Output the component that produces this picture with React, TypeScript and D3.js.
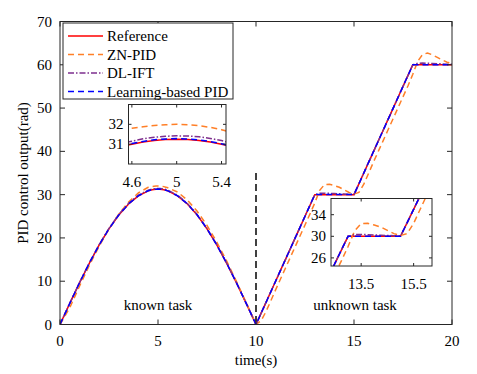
import React from "react"
import * as d3 from "d3"

// time grid (s)
const T = [
  0, 0.5, 1, 1.5, 2, 2.5, 3, 3.5, 4, 4.5, 4.6, 4.7, 4.8, 4.9, 5, 5.1, 5.2, 5.3, 5.4, 5.5, 6, 6.5, 7, 7.5, 8, 8.5, 9, 9.5, 10,
  10.25, 10.5, 10.75, 11, 11.25, 11.5, 11.75, 12, 12.25, 12.5, 12.75, 13,
  13.25, 13.5, 13.75, 14, 14.25, 14.5, 14.75, 15,
  15.25, 15.5, 15.75, 16, 16.25, 16.5, 16.75, 17, 17.25, 17.5, 17.75, 18,
  18.25, 18.5, 18.75, 19, 19.25, 19.5, 19.75, 20,
]

const REF = [
  0, 4.89, 9.66, 14.19, 18.37, 22.1, 25.28, 27.84, 29.72, 30.87, 31.0, 31.11, 31.19, 31.23, 31.25, 31.23, 31.19, 31.11, 31.0, 30.87, 29.72, 27.84, 25.28, 22.1, 18.37, 14.19, 9.66, 4.89, 0,
  2.5, 5, 7.5, 10, 12.5, 15, 17.5, 20, 22.5, 25, 27.5, 30,
  30, 30, 30, 30, 30, 30, 30, 30,
  32.5, 35, 37.5, 40, 42.5, 45, 47.5, 50, 52.5, 55, 57.5, 60,
  60, 60, 60, 60, 60, 60, 60, 60,
]

const ZN = [
  0, 3.9, 8.9, 13.7, 18.1, 22.1, 25.5, 28.3, 30.4, 31.7, 31.8, 31.88, 31.94, 31.98, 32.0, 31.98, 31.93, 31.85, 31.73, 31.58, 30.6, 28.75, 26.15, 22.9, 19.05, 14.7, 9.95, 5.05, 0.05,
  0.8, 2.9, 5.4, 8.0, 10.5, 13.0, 15.5, 18.0, 20.5, 23.0, 25.5, 28.1,
  31.0, 32.35, 32.4, 32.1, 31.7, 31.1, 30.5, 30.15,
  30.5, 32.4, 35.0, 37.6, 40.1, 42.6, 45.1, 47.6, 50.1, 52.6, 55.1, 57.8,
  60.8, 62.4, 62.7, 62.3, 61.7, 61.1, 60.6, 60.3,
]

const DLIFT = [
  0, 4.91, 9.71, 14.26, 18.46, 22.21, 25.41, 27.98, 29.87, 31.02, 31.15, 31.27, 31.35, 31.4, 31.42, 31.41, 31.37, 31.29, 31.18, 31.04, 29.86, 27.97, 25.39, 22.19, 18.44, 14.24, 9.69, 4.9, 0,
  2.5, 5, 7.5, 10, 12.5, 15, 17.5, 20, 22.5, 25, 27.5, 30,
  30.3, 30.35, 30.3, 30.25, 30.2, 30.15, 30.1, 30.05,
  32.5, 35, 37.5, 40, 42.5, 45, 47.5, 50, 52.5, 55, 57.5, 60,
  60.35, 60.4, 60.35, 60.3, 60.25, 60.2, 60.15, 60.15,
]

const LPID = [
  0, 4.9, 9.67, 14.2, 18.38, 22.11, 25.3, 27.86, 29.74, 30.9, 31.03, 31.14, 31.22, 31.26, 31.28, 31.26, 31.21, 31.13, 31.02, 30.88, 29.73, 27.85, 25.29, 22.1, 18.37, 14.19, 9.66, 4.89, 0,
  2.5, 5, 7.5, 10, 12.5, 15, 17.5, 20, 22.5, 25, 27.5, 30,
  30.02, 30.02, 30.02, 30.02, 30.02, 30.02, 30.02, 30.02,
  32.5, 35, 37.5, 40, 42.5, 45, 47.5, 50, 52.5, 55, 57.5, 60,
  60, 60, 60, 60, 60, 60, 60, 60,
]

const SERIES = [
  { name: "Reference", values: REF, color: "#ff0000", dash: "none" },
  { name: "ZN-PID", values: ZN, color: "#ff7f27", dash: "6,4" },
  { name: "DL-IFT", values: DLIFT, color: "#7e2f8e", dash: "6,2,1.5,2" },
  { name: "Learning-based PID", values: LPID, color: "#0000ff", dash: "6,4" },
]

const MAIN_X_TICKS = [0, 5, 10, 15, 20]
const MAIN_Y_TICKS = [0, 10, 20, 30, 40, 50, 60, 70]
const IN1_X_TICKS = [4.6, 5, 5.4]
const IN1_Y_TICKS = [31, 32]
const IN2_X_TICKS = [13.5, 15.5]
const IN2_Y_TICKS = [26, 30, 34]

const FONT = "'Liberation Serif', 'Times New Roman', serif"
const AXIS = "#262626"

type AxesProps = {
  id: string
  left: number
  right: number
  top: number
  bottom: number
  xDomain: [number, number]
  yDomain: [number, number]
  xTicks: number[]
  yTicks: number[]
  tickLen: number
  xLabelY: number
  yLabelGap: number
  children?: (x: d3.ScaleLinear<number, number>, y: d3.ScaleLinear<number, number>) => React.ReactNode
}

function Axes(p: AxesProps) {
  const x = d3.scaleLinear().domain(p.xDomain).range([p.left, p.right])
  const y = d3.scaleLinear().domain(p.yDomain).range([p.bottom, p.top])
  const line = d3
    .line<number>()
    .x((_, i) => x(T[i]))
    .y((d) => y(d))

  return (
    <g>
      <defs>
        <clipPath id={p.id}>
          <rect x={p.left} y={p.top} width={p.right - p.left} height={p.bottom - p.top} />
        </clipPath>
      </defs>
      <rect x={p.left} y={p.top} width={p.right - p.left} height={p.bottom - p.top} fill="#fff" />
      <g clipPath={`url(#${p.id})`}>
        {p.children && p.children(x, y)}
        {SERIES.map((s) => (
          <path
            key={s.name}
            d={line(s.values) || ""}
            fill="none"
            stroke={s.color}
            strokeWidth={1.5}
            strokeDasharray={s.dash}
          />
        ))}
      </g>
      {p.xTicks.map((t) => (
        <g key={"x" + t}>
          <line x1={x(t)} x2={x(t)} y1={p.bottom} y2={p.bottom - p.tickLen} stroke={AXIS} />
          <line x1={x(t)} x2={x(t)} y1={p.top} y2={p.top + p.tickLen} stroke={AXIS} />
          <text x={x(t)} y={p.xLabelY} textAnchor="middle" fontFamily={FONT} fontSize={15} fill="#000">
            {t}
          </text>
        </g>
      ))}
      {p.yTicks.map((t) => (
        <g key={"y" + t}>
          <line x1={p.left} x2={p.left + p.tickLen} y1={y(t)} y2={y(t)} stroke={AXIS} />
          <line x1={p.right} x2={p.right - p.tickLen} y1={y(t)} y2={y(t)} stroke={AXIS} />
          <text
            x={p.left - p.yLabelGap}
            y={y(t) + 5}
            textAnchor="end"
            fontFamily={FONT}
            fontSize={15}
            fill="#000"
          >
            {t}
          </text>
        </g>
      ))}
      <rect
        x={p.left}
        y={p.top}
        width={p.right - p.left}
        height={p.bottom - p.top}
        fill="none"
        stroke={AXIS}
        strokeWidth={1}
      />
    </g>
  )
}

export default function App() {
  const legendRows = [36, 54.5, 73, 91.5]
  return (
    <svg
      width={477}
      height={374}
      style={{ position: "absolute", left: 0, top: 0, background: "#fff" }}
    >
      <Axes
        id="main"
        left={60}
        right={452}
        top={21.5}
        bottom={324.5}
        xDomain={[0, 20]}
        yDomain={[0, 70]}
        xTicks={MAIN_X_TICKS}
        yTicks={MAIN_Y_TICKS}
        tickLen={5}
        xLabelY={346}
        yLabelGap={8}
      >
        {(x, y) => (
          <g>
            <line
              x1={x(10)}
              x2={x(10)}
              y1={y(35)}
              y2={y(0)}
              stroke="#000"
              strokeWidth={1.5}
              strokeDasharray="7,4"
            />
          </g>
        )}
      </Axes>

      <text x={158} y={310} textAnchor="middle" fontFamily={FONT} fontSize={15}>
        known task
      </text>
      <text x={355} y={310} textAnchor="middle" fontFamily={FONT} fontSize={15}>
        unknown task
      </text>

      <text x={256} y={365} textAnchor="middle" fontFamily={FONT} fontSize={15}>
        time(s)
      </text>
      <text
        transform="translate(28,173) rotate(-90)"
        textAnchor="middle"
        fontFamily={FONT}
        fontSize={15}
      >
        PID control output(rad)
      </text>

      {/* legend */}
      <g>
        <rect x={63} y={23} width={170} height={76} fill="#fff" stroke={AXIS} strokeWidth={1} />
        {SERIES.map((s, i) => (
          <g key={s.name}>
            <line
              x1={68}
              x2={103}
              y1={legendRows[i]}
              y2={legendRows[i]}
              stroke={s.color}
              strokeWidth={1.5}
              strokeDasharray={s.dash}
            />
            <text x={107} y={legendRows[i] + 5} fontFamily={FONT} fontSize={15}>
              {s.name}
            </text>
          </g>
        ))}
      </g>

      <Axes
        id="inset1"
        left={128.5}
        right={226}
        top={104.5}
        bottom={164}
        xDomain={[4.57, 5.44]}
        yDomain={[30, 33]}
        xTicks={IN1_X_TICKS}
        yTicks={IN1_Y_TICKS}
        tickLen={3}
        xLabelY={187}
        yLabelGap={5}
      />

      <Axes
        id="inset2"
        left={331}
        right={432}
        top={198.5}
        bottom={266}
        xDomain={[12.35, 16.2]}
        yDomain={[24.5, 37]}
        xTicks={IN2_X_TICKS}
        yTicks={IN2_Y_TICKS}
        tickLen={3}
        xLabelY={289}
        yLabelGap={5}
      />
    </svg>
  )
}
